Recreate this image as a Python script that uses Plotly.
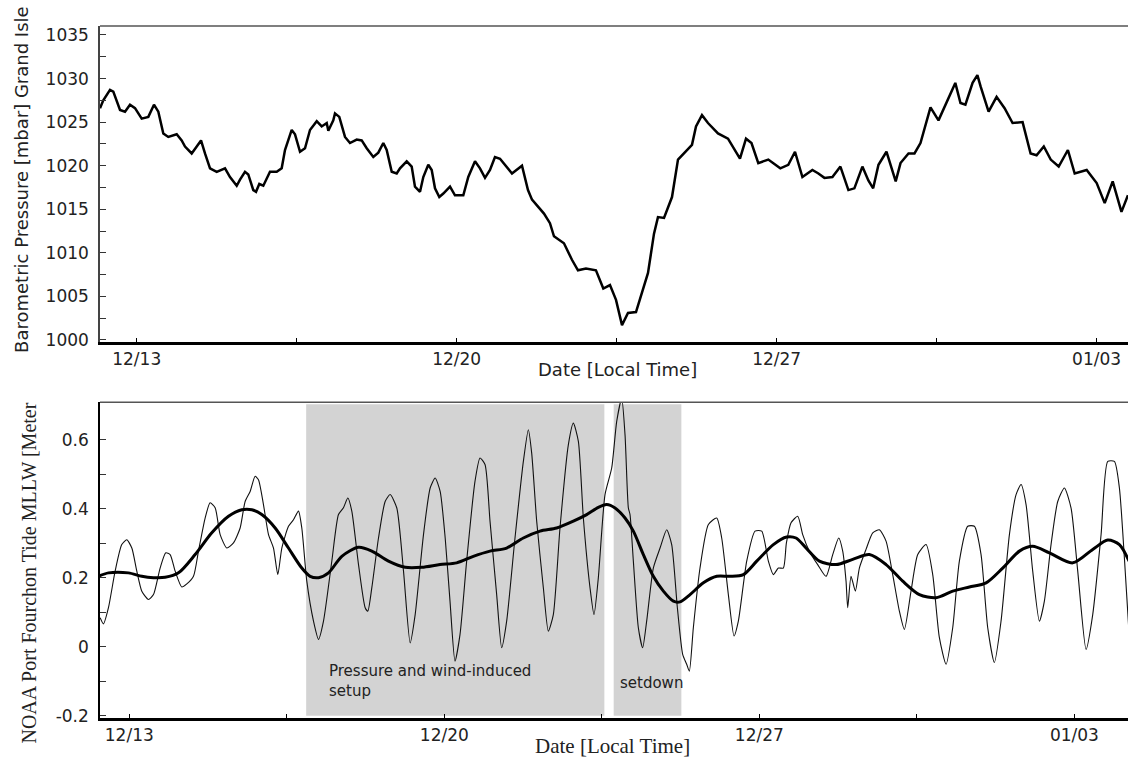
import pandas as pd
import plotly.graph_objects as go

# ---------------- data (days measured from 12/13 00:00) ----------------
pressure_day = [-0.803, -0.731, -0.584, -0.512, -0.365, -0.256, -0.147, -0.037, 0.109, 0.254,
                0.378, 0.473, 0.582, 0.691, 0.875, 0.984, 1.057, 1.203, 1.313, 1.407,
                1.494, 1.604, 1.750, 1.932, 2.041, 2.188, 2.260, 2.369, 2.441, 2.551,
                2.610, 2.682, 2.770, 2.916, 3.063, 3.172, 3.244, 3.391, 3.463, 3.573,
                3.682, 3.791, 3.938, 4.047, 4.157, 4.192, 4.301, 4.338, 4.432, 4.557,
                4.666, 4.813, 4.922, 5.032, 5.176, 5.286, 5.395, 5.469, 5.579, 5.688,
                5.760, 5.907, 6.016, 6.088, 6.198, 6.270, 6.379, 6.454, 6.526, 6.620,
                6.708, 6.854, 6.963, 7.145, 7.254, 7.401, 7.510, 7.620, 7.729, 7.838,
                7.948, 8.210, 8.429, 8.560, 8.648, 8.779, 8.910, 9.041, 9.129, 9.347,
                9.522, 9.654, 9.829, 10.047, 10.208, 10.354, 10.486, 10.617, 10.748, 10.923,
                11.054, 11.186, 11.317, 11.404, 11.536, 11.711, 11.842, 11.973, 12.148, 12.236,
                12.367, 12.498, 12.717, 12.936, 13.067, 13.198, 13.330, 13.450, 13.599, 13.818,
                14.080, 14.255, 14.402, 14.564, 14.782, 14.914, 15.045, 15.220, 15.395, 15.570,
                15.701, 15.876, 16.007, 16.112, 16.228, 16.403, 16.605, 16.710, 16.885, 17.016,
                17.147, 17.366, 17.541, 17.716, 17.909, 18.022, 18.130, 18.287, 18.392, 18.462,
                18.637, 18.812, 18.987, 19.162, 19.381, 19.556, 19.687, 19.845, 19.996, 20.171,
                20.372, 20.521, 20.783, 21.002, 21.177, 21.352, 21.544, 21.686]
pressure_mbar = [1026.6, 1027.5, 1028.7, 1028.5, 1026.4, 1026.2, 1027.0, 1026.6, 1025.4, 1025.6,
                 1027.0, 1026.2, 1023.7, 1023.3, 1023.6, 1022.9, 1022.2, 1021.4, 1022.2, 1022.9,
                 1021.4, 1019.7, 1019.3, 1019.7, 1018.7, 1017.7, 1018.4, 1019.3, 1019.0, 1017.2,
                 1017.0, 1017.9, 1017.7, 1019.3, 1019.3, 1019.7, 1021.8, 1024.1, 1023.6, 1021.6,
                 1022.0, 1024.1, 1025.1, 1024.5, 1024.9, 1024.0, 1025.2, 1026.0, 1025.6, 1023.3,
                 1022.6, 1023.0, 1022.9, 1022.0, 1021.0, 1021.5, 1022.6, 1021.8, 1019.3, 1019.1,
                 1019.7, 1020.5, 1019.9, 1017.6, 1017.0, 1018.7, 1020.1, 1019.5, 1017.4, 1016.4,
                 1016.8, 1017.6, 1016.6, 1016.6, 1018.7, 1020.5, 1019.7, 1018.6, 1019.5, 1021.0,
                 1020.8, 1019.1, 1020.0, 1017.2, 1016.1, 1015.3, 1014.5, 1013.4, 1011.9, 1011.1,
                 1009.2, 1008.0, 1008.2, 1008.0, 1005.9, 1006.3, 1004.6, 1001.7, 1003.1, 1003.2,
                 1005.5, 1007.7, 1012.2, 1014.1, 1014.0, 1016.4, 1020.7, 1021.4, 1022.4, 1024.5,
                 1025.8, 1024.9, 1023.7, 1023.1, 1022.0, 1020.8, 1023.1, 1022.6, 1020.3, 1020.7,
                 1019.7, 1020.1, 1021.6, 1018.7, 1019.5, 1019.1, 1018.6, 1018.7, 1019.9, 1017.2,
                 1017.4, 1019.9, 1018.3, 1017.4, 1020.1, 1021.6, 1018.2, 1020.3, 1021.4, 1021.4,
                 1022.6, 1026.7, 1025.2, 1027.2, 1029.5, 1027.2, 1027.0, 1029.5, 1030.4, 1029.1,
                 1026.2, 1027.9, 1026.6, 1024.9, 1025.0, 1021.4, 1021.2, 1022.2, 1020.7, 1019.9,
                 1021.8, 1019.1, 1019.5, 1018.0, 1015.7, 1018.2, 1014.7, 1016.6]

tide_day = [-0.648, -0.574, -0.463, -0.315, -0.167, -0.056, 0.056, 0.167, 0.278, 0.426,
            0.537, 0.685, 0.811, 0.907, 1.019, 1.167, 1.278, 1.426, 1.537, 1.685,
            1.796, 1.907, 2.019, 2.167, 2.315, 2.463, 2.574, 2.685, 2.796, 2.870,
            2.981, 3.093, 3.204, 3.300, 3.389, 3.537, 3.648, 3.759, 3.833, 3.944,
            4.093, 4.204, 4.315, 4.500, 4.648, 4.759, 4.856, 4.944, 5.093, 5.241,
            5.300, 5.389, 5.537, 5.685, 5.796, 5.944, 6.093, 6.241, 6.352, 6.537,
            6.685, 6.796, 6.907, 7.019, 7.126, 7.237, 7.348, 7.496, 7.681, 7.793,
            7.904, 8.015, 8.163, 8.274, 8.385, 8.570, 8.756, 8.867, 8.941, 9.052,
            9.200, 9.311, 9.422, 9.570, 9.756, 9.867, 9.978, 10.089, 10.237, 10.326,
            10.422, 10.570, 10.719, 10.830, 10.941, 11.015, 11.089, 11.126, 11.200, 11.311,
            11.407, 11.496, 11.644, 11.793, 11.941, 12.052, 12.178, 12.296, 12.385, 12.444,
            12.533, 12.681, 12.867, 13.052, 13.163, 13.311, 13.437, 13.533, 13.719, 13.904,
            14.052, 14.200, 14.311, 14.422, 14.533, 14.600, 14.704, 14.852, 14.963, 15.111,
            15.296, 15.481, 15.630, 15.763, 15.852, 15.926, 15.963, 16.037, 16.133, 16.222,
            16.370, 16.519, 16.667, 16.815, 16.963, 17.111, 17.222, 17.370, 17.519, 17.704,
            17.852, 18.000, 18.148, 18.296, 18.444, 18.630, 18.778, 18.926, 19.074, 19.222,
            19.370, 19.556, 19.704, 19.815, 19.926, 20.074, 20.222, 20.333, 20.481, 20.630,
            20.778, 20.926, 21.074, 21.259, 21.407, 21.593, 21.741, 21.889, 22.000, 22.111,
            22.207]
tide_m = [0.084, 0.066, 0.113, 0.219, 0.296, 0.310, 0.286, 0.219, 0.161, 0.137,
          0.151, 0.228, 0.272, 0.267, 0.219, 0.173, 0.182, 0.204, 0.277, 0.373,
          0.417, 0.403, 0.325, 0.286, 0.301, 0.344, 0.421, 0.450, 0.494, 0.484,
          0.412, 0.325, 0.286, 0.209, 0.286, 0.349, 0.368, 0.393, 0.344, 0.190,
          0.074, 0.021, 0.074, 0.248, 0.383, 0.403, 0.431, 0.393, 0.238, 0.113,
          0.103, 0.171, 0.315, 0.421, 0.441, 0.402, 0.219, 0.011, 0.093, 0.325,
          0.460, 0.489, 0.450, 0.315, 0.132, -0.042, 0.035, 0.248, 0.479, 0.547,
          0.528, 0.364, 0.151, -0.003, 0.074, 0.315, 0.537, 0.629, 0.561, 0.364,
          0.171, 0.045, 0.093, 0.344, 0.586, 0.648, 0.595, 0.373, 0.171, 0.093,
          0.200, 0.441, 0.518, 0.653, 0.720, 0.614, 0.402, 0.383, 0.248, 0.055,
          -0.003, 0.074, 0.228, 0.286, 0.339, 0.296, 0.113, -0.022, -0.051, -0.071,
          0.055, 0.228, 0.354, 0.373, 0.315, 0.151, 0.031, 0.074, 0.248, 0.335,
          0.335, 0.248, 0.209, 0.228, 0.228, 0.300, 0.359, 0.378, 0.325, 0.277,
          0.238, 0.204, 0.267, 0.315, 0.277, 0.190, 0.113, 0.204, 0.161, 0.228,
          0.282, 0.330, 0.339, 0.306, 0.209, 0.103, 0.050, 0.161, 0.267, 0.296,
          0.209, 0.026, -0.051, 0.055, 0.248, 0.349, 0.349, 0.267, 0.055, -0.046,
          0.074, 0.325, 0.441, 0.470, 0.412, 0.219, 0.074, 0.132, 0.296, 0.421,
          0.460, 0.402, 0.219, -0.008, 0.093, 0.325, 0.537, 0.537, 0.460, 0.257,
          0.055]

smooth_day = [-0.685, -0.463, -0.019, 0.278, 0.537, 0.796, 1.093, 1.463, 1.833, 2.204,
              2.500, 2.722, 2.944, 3.241, 3.537, 3.833, 4.019, 4.204, 4.426, 4.722,
              5.093, 5.389, 5.759, 6.130, 6.500, 6.904, 7.274, 7.644, 8.015, 8.385,
              8.756, 9.126, 9.496, 9.867, 10.163, 10.422, 10.607, 10.793, 11.015, 11.200,
              11.422, 11.644, 11.867, 12.089, 12.237, 12.459, 12.756, 13.052, 13.348, 13.644,
              13.941, 14.311, 14.607, 14.815, 15.037, 15.333, 15.704, 16.074, 16.444, 16.815,
              17.185, 17.556, 17.926, 18.296, 18.667, 19.037, 19.407, 19.778, 20.074, 20.444,
              20.963, 21.407, 21.741, 22.000, 22.215]
smooth_m = [0.204, 0.214, 0.214, 0.204, 0.200, 0.201, 0.214, 0.267, 0.330, 0.378,
            0.397, 0.397, 0.383, 0.344, 0.286, 0.228, 0.204, 0.200, 0.214, 0.262,
            0.288, 0.277, 0.248, 0.230, 0.230, 0.238, 0.243, 0.262, 0.277, 0.286,
            0.315, 0.335, 0.344, 0.364, 0.383, 0.404, 0.412, 0.402, 0.373, 0.335,
            0.267, 0.204, 0.161, 0.132, 0.130, 0.151, 0.185, 0.204, 0.204, 0.209,
            0.248, 0.296, 0.318, 0.315, 0.286, 0.248, 0.238, 0.253, 0.267, 0.238,
            0.190, 0.151, 0.142, 0.161, 0.173, 0.185, 0.228, 0.277, 0.291, 0.272,
            0.243, 0.282, 0.309, 0.296, 0.248]

shade_start_day = [3.930, 10.763]
shade_end_day = [10.556, 12.267]

date_tick_day = [0, 7, 14, 21]
date_minor_day = [3.5, 10.5, 17.5]
pressure_ticks = [1000, 1005, 1010, 1015, 1020, 1025, 1030, 1035]
pressure_minor = [1002.5, 1007.5, 1012.5, 1017.5, 1022.5, 1027.5, 1032.5]
tide_ticks = [-0.2, 0, 0.2, 0.4, 0.6]
tide_tick_text = ["-0.2", "0", "0.2", "0.4", "0.6"]
tide_minor = [-0.1, 0.1, 0.3, 0.5]

BASE = pd.Timestamp("2009-12-13")


def to_dt(days):
    return [BASE + pd.Timedelta(days=d) for d in days]


SANS = "DejaVu Sans"
SERIF = "Liberation Serif"
tick_font = dict(family=SANS, size=17, color="#222")

fig = go.Figure()

fig.add_trace(go.Scatter(x=to_dt(pressure_day), y=pressure_mbar, mode="lines",
                         line=dict(color="black", width=2.5),
                         xaxis="x", yaxis="y", showlegend=False, hoverinfo="skip"))
fig.add_trace(go.Scatter(x=to_dt(tide_day), y=tide_m, mode="lines",
                         line=dict(color="#111", width=1.1, shape="spline", smoothing=0.6),
                         xaxis="x2", yaxis="y2", showlegend=False, hoverinfo="skip"))
fig.add_trace(go.Scatter(x=to_dt(smooth_day), y=smooth_m, mode="lines",
                         line=dict(color="black", width=3, shape="spline", smoothing=0.8),
                         xaxis="x2", yaxis="y2", showlegend=False, hoverinfo="skip"))

shapes = []
for s, e in zip(to_dt(shade_start_day), to_dt(shade_end_day)):
    shapes.append(dict(type="rect", xref="x2", yref="y2", x0=s, x1=e, y0=-0.2, y1=0.703,
                       fillcolor="#d3d3d3", line=dict(width=0), layer="below"))
# thin top frame lines
for xr, yr in (("x domain", "y domain"), ("x2 domain", "y2 domain")):
    shapes.append(dict(type="line", xref=xr, yref=yr, x0=0, x1=1, y0=1, y1=1,
                       line=dict(color="#555", width=1.5)))

top_range = to_dt([-0.803, 21.687])
bot_range = to_dt([-0.651, 22.191])


def xaxis_cfg(rng, anchor):
    return dict(type="date", range=rng, anchor=anchor, domain=[0, 1],
                tickvals=to_dt(date_tick_day), tickformat="%m/%d",
                ticks="inside", ticklen=4, tickcolor="black", tickwidth=1,
                minor=dict(tickvals=to_dt(date_minor_day), ticks="inside", ticklen=4,
                           tickcolor="black", tickwidth=1),
                showline=True, linecolor="black", linewidth=2.5,
                showgrid=False, zeroline=False, tickfont=tick_font)


annotations = [
    dict(text="Date [Local Time]", xref="paper", yref="paper", x=0.503, y=0.5029,
         xanchor="center", yanchor="middle", showarrow=False,
         font=dict(family=SANS, size=18, color="#222")),
    dict(text="Date [Local Time]", xref="paper", yref="paper", x=0.499, y=-0.040,
         xanchor="center", yanchor="middle", showarrow=False,
         font=dict(family=SERIF, size=21, color="#222")),
    dict(text="Barometric Pressure [mbar] Grand Isle", xref="paper", yref="paper",
         x=-0.0759, y=0.779, xanchor="center", yanchor="middle", textangle=-90,
         showarrow=False, font=dict(family=SANS, size=18, color="#222")),
    dict(text="NOAA Port Fourchon Tide MLLW [Meter", xref="paper", yref="paper",
         x=-0.070, y=0.2088, xanchor="center", yanchor="middle", textangle=-90,
         showarrow=False, font=dict(family=SERIF, size=20, color="#222")),
    dict(text="Pressure and wind-induced<br>setup", xref="x2", yref="y2",
         x=BASE + pd.Timedelta(days=4.387), y=-0.099, xanchor="left", yanchor="middle",
         align="left", showarrow=False, font=dict(family=SANS, size=15, color="#222")),
    dict(text="setdown", xref="x2", yref="y2",
         x=BASE + pd.Timedelta(days=10.86), y=-0.105, xanchor="left", yanchor="middle",
         align="left", showarrow=False, font=dict(family=SANS, size=15, color="#222")),
]

fig.update_layout(
    width=1128, height=759,
    margin=dict(l=100, r=0, t=26, b=41),
    paper_bgcolor="white", plot_bgcolor="white",
    showlegend=False,
    xaxis=xaxis_cfg(top_range, "y"),
    xaxis2=xaxis_cfg(bot_range, "y2"),
    yaxis=dict(domain=[0.5434, 1], anchor="x", range=[999.77, 1036.03],
               tickvals=pressure_ticks, ticks="inside", ticklen=6, tickcolor="#333",
               minor=dict(tickvals=pressure_minor, ticks="inside", ticklen=6, tickcolor="#333"),
               showline=True, linecolor="#444", linewidth=1.5, showgrid=False,
               zeroline=False, tickfont=tick_font, ticklabelstandoff=6),
    yaxis2=dict(domain=[0, 0.4562], anchor="x2", range=[-0.2067, 0.7084],
                tickvals=tide_ticks, ticktext=tide_tick_text, ticks="inside", ticklen=6,
                tickcolor="#333",
                minor=dict(tickvals=tide_minor, ticks="inside", ticklen=6, tickcolor="#333"),
                showline=True, linecolor="black", linewidth=1.5, showgrid=False,
                zeroline=False, tickfont=tick_font, ticklabelstandoff=6),
    shapes=shapes,
    annotations=annotations,
)

fig.write_html("out.html",
               config={"displayModeBar": False},
               post_script="document.body.style.margin='0';"
                           "document.body.style.overflow='hidden';")
